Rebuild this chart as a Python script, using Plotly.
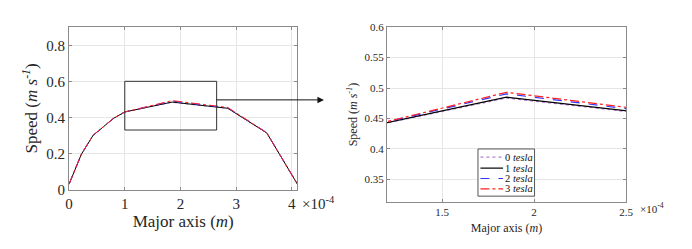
import plotly.graph_objects as go

# Data (x in metres)
x_major = [0.0, 0.22e-4, 0.43e-4, 0.80e-4, 1.0e-4, 1.85e-4, 2.85e-4, 3.55e-4, 4.1e-4]
speed_0T = [0.030, 0.195, 0.300, 0.395, 0.430, 0.4835, 0.4495, 0.314, 0.030]
speed_1T = [0.030, 0.195, 0.300, 0.395, 0.430, 0.4850, 0.4505, 0.314, 0.030]
speed_2T = [0.030, 0.195, 0.300, 0.395, 0.430, 0.4905, 0.4530, 0.315, 0.030]
speed_3T = [0.030, 0.196, 0.301, 0.396, 0.430, 0.4930, 0.4550, 0.315, 0.030]
series_names = ["0 <i>tesla</i>", "1 <i>tesla</i>", "2 <i>tesla</i>", "3 <i>tesla</i>"]
series_vals = [speed_0T, speed_1T, speed_2T, speed_3T]
series_colors = ["#b580d8", "#000000", "#3333ff", "#ff2020"]
series_dash = ["dot", "solid", "dash", "dashdot"]

left_xticks = [0, 1e-4, 2e-4, 3e-4, 4e-4]
left_xticklabels = ["0", "1", "2", "3", "4"]
left_yticks = [0, 0.2, 0.4, 0.6, 0.8]
left_yticklabels = ["0", "0.2", "0.4", "0.6", "0.8"]
right_xticks = [1.5e-4, 2e-4, 2.5e-4]
right_xticklabels = ["1.5", "2", "2.5"]
right_yticks = [0.35, 0.4, 0.45, 0.5, 0.55, 0.6]
right_yticklabels = ["0.35", "0.4", "0.45", "0.5", "0.55", "0.6"]

FONT = "'Liberation Serif', 'Times New Roman', serif"
TXT = "#262626"
AX = "#8a8a8a"
GRID = "#e6e6e6"

fig = go.Figure()
for name, vals, col, dash in zip(series_names, series_vals, series_colors, series_dash):
    fig.add_trace(go.Scatter(x=x_major, y=vals, mode="lines", name=name,
                             line=dict(color=col, width=1, dash=dash),
                             xaxis="x", yaxis="y", showlegend=False))
for name, vals, col, dash in zip(series_names, series_vals, series_colors, series_dash):
    fig.add_trace(go.Scatter(x=x_major, y=vals, mode="lines", name=name,
                             line=dict(color=col, width=1.2, dash=dash),
                             xaxis="x2", yaxis="y2", showlegend=False))

W, H = 692, 249
def px_x(a): return a / W
def px_y(b): return 1 - b / H

common = dict(showline=True, linecolor=AX, linewidth=1, mirror="ticks",
              ticks="inside", ticklen=3, tickcolor=AX, showgrid=True,
              gridcolor=GRID, gridwidth=1, zeroline=False)

fig.update_layout(
    width=W, height=H, margin=dict(l=0, r=0, t=0, b=0),
    paper_bgcolor="white", plot_bgcolor="white",
    font=dict(family=FONT, color=TXT), showlegend=False,
    xaxis=dict(domain=[px_x(58), px_x(290)], range=[0, 4.1e-4],
               tickvals=left_xticks, ticktext=left_xticklabels,
               tickfont=dict(size=15, family=FONT, color=TXT), anchor="y",
               title=dict(text="Major axis (<i>m</i>)", font=dict(size=17, family=FONT, color=TXT), standoff=4),
               **common),
    yaxis=dict(domain=[px_y(186), px_y(14)], range=[0, 0.9],
               tickvals=left_yticks, ticktext=left_yticklabels,
               tickfont=dict(size=15, family=FONT, color=TXT), anchor="x",
               title=dict(text="Speed (<i>m s</i><sup><i>-1</i></sup>)", font=dict(size=17, family=FONT, color=TXT), standoff=4),
               **common),
    xaxis2=dict(domain=[px_x(381), px_x(624)], range=[1.2e-4, 2.5e-4],
                tickvals=right_xticks, ticktext=right_xticklabels,
                tickfont=dict(size=11, family=FONT, color=TXT), anchor="y2",
                title=dict(text="Major axis (<i>m</i>)", font=dict(size=12, family=FONT, color=TXT), standoff=6),
                **common),
    yaxis2=dict(domain=[px_y(199), px_y(14)], range=[0.313, 0.6],
                tickvals=right_yticks, ticktext=right_yticklabels,
                tickfont=dict(size=11, family=FONT, color=TXT), anchor="x2",
                title=dict(text="Speed (<i>m s</i><sup><i>-1</i></sup>)", font=dict(size=12, family=FONT, color=TXT), standoff=4),
                **common),
)

# zoom rectangle in left axes
fig.add_shape(type="rect", xref="x", yref="y", x0=1.0e-4, x1=2.65e-4, y0=0.33, y1=0.6,
              line=dict(color="#333333", width=1))
# arrow
fig.add_annotation(xref="paper", yref="paper", x=px_x(317), y=px_y(91),
                   ax=-(317 - 208), ay=0, axref="pixel", ayref="pixel",
                   showarrow=True, arrowhead=2, arrowsize=1.3, arrowwidth=1,
                   arrowcolor="#111111", text="")
# exponent labels
fig.add_annotation(xref="paper", yref="paper", x=px_x(293), y=px_y(200), xanchor="left", yanchor="middle",
                   text="×10<sup>-4</sup>", showarrow=False, font=dict(size=15, family=FONT, color=TXT))
fig.add_annotation(xref="paper", yref="paper", x=px_x(636), y=px_y(206), xanchor="left", yanchor="middle",
                   text="×10<sup>-4</sup>", showarrow=False, font=dict(size=11, family=FONT, color=TXT))

# legend (drawn manually for compact MATLAB-style box)
fig.add_shape(type="rect", xref="paper", yref="paper",
              x0=px_x(473.5), x1=px_x(531), y0=px_y(193), y1=px_y(143),
              line=dict(color="#555555", width=1), fillcolor="white", layer="above")
row_y = [151.7, 163.3, 174.3, 185.3]
for name, col, dash, ry in zip(series_names, series_colors, series_dash, row_y):
    fig.add_shape(type="line", xref="paper", yref="paper",
                  x0=px_x(476), x1=px_x(499), y0=px_y(ry), y1=px_y(ry),
                  line=dict(color=col, width=1.2, dash=dash), layer="above")
    fig.add_annotation(xref="paper", yref="paper", x=px_x(500), y=px_y(ry),
                       xanchor="left", yanchor="middle", text=name, showarrow=False,
                       borderpad=0, font=dict(size=10.5, family=FONT, color="#111111"))

fig.write_html("out.html")
